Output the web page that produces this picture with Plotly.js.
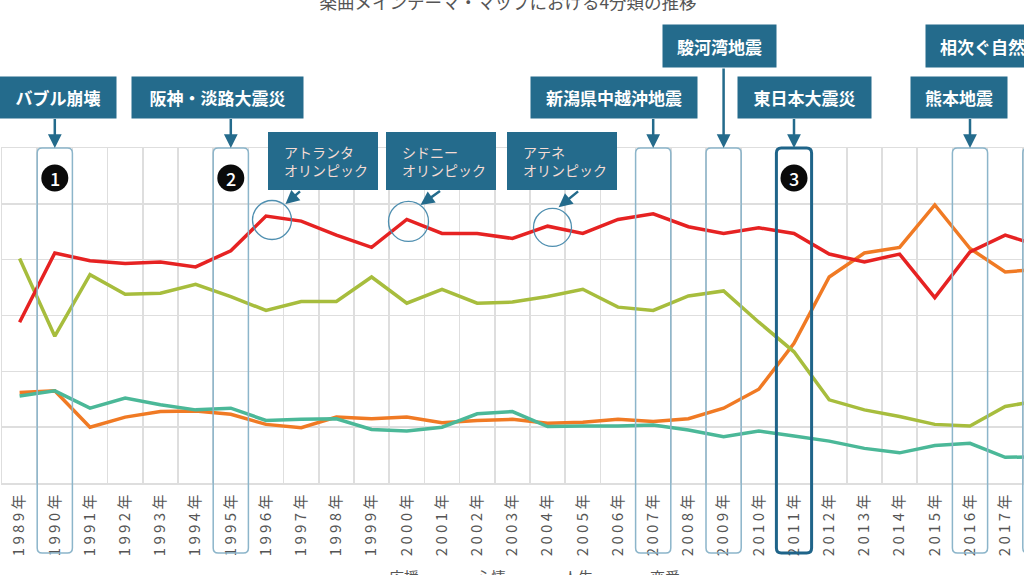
<!DOCTYPE html>
<html>
<head>
<meta charset="utf-8">
<script src="https://cdn.plot.ly/plotly-3.0.1.min.js"></script>
<style>
html, body { margin: 0; padding: 0; overflow: hidden; background: #fff; }
#graphic_tema { position: absolute; left: 0; top: 0; width: 1078px; height: 600px; }
</style>
</head>
<body>
<div id="graphic_tema"></div>
<script>
const years = [1989, 1990, 1991, 1992, 1993, 1994, 1995, 1996, 1997, 1998, 1999, 2000, 2001, 2002, 2003,
    2004, 2005, 2006, 2007, 2008, 2009, 2010, 2011, 2012, 2013, 2014, 2015, 2016, 2017, 2018];
const seriesNames = ["応援", "心情", "人生", "恋愛"];
const ouenValues = [16.2, 16.5, 10.0, 11.8, 12.8, 12.9, 12.3, 10.5, 9.9, 11.8, 11.5, 11.8, 10.8, 11.2, 11.4,
    10.7, 10.9, 11.4, 11.0, 11.5, 13.4, 16.8, 25.0, 36.9, 41.2, 42.2, 49.8, 42.0, 37.8, 38.3];
const shinjoValues = [15.6, 16.5, 13.4, 15.2, 14.0, 13.1, 13.4, 11.2, 11.4, 11.5, 9.6, 9.3, 10.0, 12.4, 12.8,
    10.1, 10.2, 10.2, 10.4, 9.5, 8.3, 9.3, 8.4, 7.5, 6.2, 5.4, 6.7, 7.1, 4.6, 4.7];
const jinseiValues = [40.2, 26.3, 37.3, 33.8, 34.0, 35.6, 33.4, 30.9, 32.5, 32.5, 36.9, 32.2, 34.7, 32.2, 32.4,
    33.4, 34.7, 31.5, 30.9, 33.5, 34.4, 28.8, 23.5, 14.9, 13.1, 11.9, 10.5, 10.2, 13.7, 14.8];
const renaiValues = [28.8, 41.2, 39.8, 39.3, 39.6, 38.7, 41.6, 47.8, 46.9, 44.4, 42.2, 47.2, 44.7, 44.7, 43.8,
    46.0, 44.7, 47.2, 48.2, 45.9, 44.7, 45.7, 44.7, 41.0, 39.6, 41.0, 33.2, 41.4, 44.4, 42.4];

const eventYears = [1990, 1995, 2007, 2009, 2011, 2016, 2018];
const eventNames = ["バブル崩壊", "阪神・淡路大震災", "新潟県中越沖地震", "駿河湾地震", "東日本大震災", "熊本地震", "相次ぐ自然災害"];
const badgeYears = [1990, 1995, 2011];
const badgeLabels = ["1", "2", "3"];
const olympicYears = [1996, 2000, 2004];
const olympicNames = ["アトランタ<br>オリンピック", "シドニー<br>オリンピック", "アテネ<br>オリンピック"];

// estilos / posiciones (px)
const FONT = "'Noto Sans CJK JP', 'Noto Sans', sans-serif";
const BLUE = "#246b8c";
const seriesColors = ["#f07a24", "#4bb898", "#a7bd3d", "#e62222"];
const eventStyle = [
    {row: 0, dx: 3.2, w: 116, main: false},
    {row: 0, dx: -13.3, w: 171, main: false},
    {row: 0, dx: -39.2, w: 166, main: false},
    {row: 1, dx: -4.1, w: 113, main: false},
    {row: 0, dx: 10.5, w: 133, main: true},
    {row: 0, dx: -11, w: 96, main: false},
    {row: 1, dx: -40.9, w: 147, main: false}
];
const rowStyle = [{yshift: 51, h: 41}, {yshift: 102, h: 42}];
const olympicStyle = [
    {dx: 57, circle: [6, -3.9, 19.5], head: [19.5, 12], tail: [16, -14]},
    {dx: 34.2, circle: [1.7, -2, 20], head: [13.7, 14.5], tail: [21, -15]},
    {dx: 14.4, circle: [4.9, -1.3, 19], head: [11, 19], tail: [21, -17]}
];

const Tema = {
    fun: {
        roundBox: (year, y0, y1, rx, ry) => {
            let a = year - 0.5, b = year + 0.5;
            return "M" + (a + rx) + "," + y1 + " L" + (b - rx) + "," + y1 + " Q" + b + "," + y1 + " " + b + "," + (y1 - ry) +
                " L" + b + "," + (y0 + ry) + " Q" + b + "," + y0 + " " + (b - rx) + "," + y0 +
                " L" + (a + rx) + "," + y0 + " Q" + a + "," + y0 + " " + a + "," + (y0 + ry) +
                " L" + a + "," + (y1 - ry) + " Q" + a + "," + y1 + " " + (a + rx) + "," + y1 + " Z";
        },
        printGraphic: (html_id) => {
            let values = [ouenValues, shinjoValues, jinseiValues, renaiValues];
            let drawOrder = [0, 2, 1, 3];
            let data = [];
            for (let i of drawOrder) {
                data.push({
                    x: years,
                    y: values[i],
                    name: seriesNames[i],
                    legendrank: i + 1,
                    mode: "lines",
                    type: "scatter",
                    line: {color: seriesColors[i], width: 3.5}
                });
            }

            let shapes = [];
            let annotations = [];

            eventYears.forEach((year, i) => {
                let st = eventStyle[i];
                let row = rowStyle[st.row];
                shapes.push({
                    type: "path", xref: "x", yref: "paper", layer: "above",
                    path: Tema.fun.roundBox(year, -0.209, 1, 0.14, 0.015),
                    line: {color: st.main ? "#1f6489" : "#8cb5ca", width: st.main ? 3 : 1.5}
                });
                annotations.push({
                    x: year, xref: "x", y: 1, yref: "paper", xshift: st.dx, yshift: row.yshift,
                    yanchor: "middle", showarrow: false, text: eventNames[i],
                    width: st.w, height: row.h, borderpad: 0, bgcolor: BLUE,
                    font: {family: FONT, size: 17, color: "#ffffff", weight: 700}
                });
                annotations.push({
                    x: year, xref: "x", y: 1, yref: "paper", text: "", showarrow: true,
                    ax: 0, ay: -(row.yshift - row.h / 2), arrowhead: 2, arrowsize: 1.1,
                    arrowwidth: 2.5, arrowcolor: BLUE, standoff: 0
                });
            });

            badgeYears.forEach((year, i) => {
                shapes.push({
                    type: "circle", xref: "x", yref: "paper", xsizemode: "pixel", ysizemode: "pixel",
                    xanchor: year, yanchor: 1, x0: -13.5, x1: 13.5, y0: -43.5, y1: -16.5,
                    fillcolor: "#0a0a0a", line: {width: 0}
                });
                annotations.push({
                    x: year, xref: "x", y: 1, yref: "paper", yshift: -30, yanchor: "middle",
                    showarrow: false, text: badgeLabels[i],
                    font: {family: FONT, size: 18, color: "#ffffff", weight: 500}
                });
            });

            olympicYears.forEach((year, i) => {
                let st = olympicStyle[i];
                let v = renaiValues[years.indexOf(year)];
                shapes.push({
                    type: "rect", xref: "x", yref: "paper", xsizemode: "pixel", ysizemode: "pixel",
                    xanchor: year, yanchor: 1, x0: st.dx - 55, x1: st.dx + 55, y0: -42, y1: 16,
                    fillcolor: BLUE, line: {width: 0}
                });
                annotations.push({
                    x: year, xref: "x", y: 1, yref: "paper", xshift: st.dx - 41, yshift: -13,
                    xanchor: "left", yanchor: "middle", align: "left", showarrow: false,
                    text: olympicNames[i],
                    font: {family: FONT, size: 14, color: "#f5dcd4"}
                });
                let c = st.circle;
                shapes.push({
                    type: "circle", xref: "x", yref: "y", xsizemode: "pixel", ysizemode: "pixel",
                    xanchor: year, yanchor: v, x0: c[0] - c[2], x1: c[0] + c[2], y0: c[1] - c[2], y1: c[1] + c[2],
                    line: {color: "#4f8fb0", width: 1.3}
                });
                annotations.push({
                    x: year, xref: "x", y: v, yref: "y", xshift: st.head[0], yshift: st.head[1],
                    text: "", showarrow: true, ax: st.tail[0], ay: st.tail[1],
                    arrowhead: 2, arrowsize: 1.1, arrowwidth: 2.5, arrowcolor: BLUE, standoff: 0
                });
            });

            let W = 1078, H = 600;
            let layout = {
                width: W, height: H,
                margin: {l: 2, r: 20, t: 148, b: 117},
                paper_bgcolor: "#ffffff", plot_bgcolor: "#ffffff",
                font: {family: FONT, color: "#555555"},
                title: {
                    text: "楽曲メインテーマ・マップにおける4分類の推移",
                    font: {family: FONT, size: 17.5, color: "#555555"},
                    xref: "container", x: 508 / W, xanchor: "center",
                    yref: "container", y: (H - 3) / H, yanchor: "middle"
                },
                showlegend: true,
                legend: {
                    orientation: "h", xref: "container", x: 523 / W, xanchor: "center",
                    yref: "container", y: (H - 577) / H, yanchor: "middle",
                    entrywidth: 42, font: {family: FONT, size: 15, color: "#555555"}
                },
                xaxis: {
                    range: [1988.5, 2018.5], tickmode: "array", tickvals: years,
                    ticktext: years.map(y => (y + "年").split("").join(" ")),
                    tickangle: -90, ticks: "outside", ticklen: 4, tickcolor: "rgba(0,0,0,0)",
                    tickfont: {family: FONT, size: 15, color: "#555555"},
                    showgrid: false, zeroline: false,
                    minor: {tickmode: "linear", tick0: 1988.5, dtick: 1, showgrid: true, gridcolor: "#dedede", gridwidth: 1.5, ticks: ""},
                    showline: true, mirror: true, linecolor: "#dedede", linewidth: 1.5, fixedrange: true
                },
                yaxis: {
                    range: [0, 60], dtick: 10, showticklabels: false, ticks: "",
                    showgrid: true, gridcolor: "#dedede", gridwidth: 1.5, zeroline: false,
                    showline: true, mirror: true, linecolor: "#dedede", linewidth: 1.5, fixedrange: true
                },
                shapes: shapes,
                annotations: annotations,
                hovermode: false
            };
            Plotly.newPlot(html_id, data, layout, {staticPlot: true, displayModeBar: false});
        }
    }
};

Tema.fun.printGraphic("graphic_tema");
</script>
</body>
</html>
